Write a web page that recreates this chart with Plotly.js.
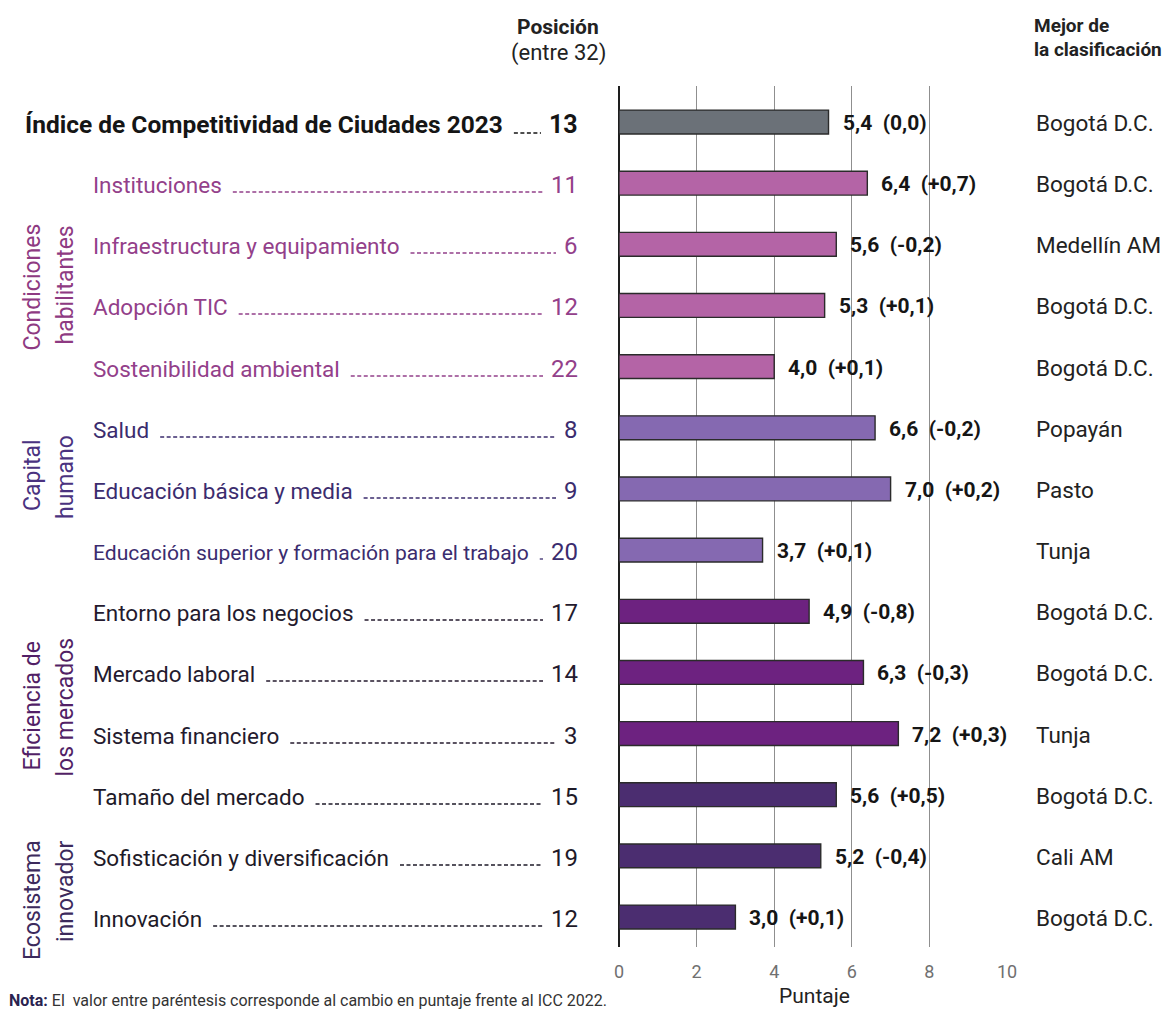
<!DOCTYPE html>
<html>
<head>
<meta charset="utf-8">
<script src="https://cdn.plot.ly/plotly-3.0.1.min.js"></script>
<style>
html,body{margin:0;padding:0;background:#fff;}
#chart{width:1171px;height:1011px;}
</style>
</head>
<body>
<div id="chart"></div>
<script>
// ---------- DATA ----------
const labels = [
  "Índice de Competitividad de Ciudades 2023",
  "Instituciones",
  "Infraestructura y equipamiento",
  "Adopción TIC",
  "Sostenibilidad ambiental",
  "Salud",
  "Educación básica y media",
  "Educación superior y formación para el trabajo",
  "Entorno para los negocios",
  "Mercado laboral",
  "Sistema financiero",
  "Tamaño del mercado",
  "Sofisticación y diversificación",
  "Innovación"
];
const groups = ["idx","cond","cond","cond","cond","cap","cap","cap","efi","efi","efi","eco","eco","eco"];
const positions = [13, 11, 6, 12, 22, 8, 9, 20, 17, 14, 3, 15, 19, 12];
const scores = [5.4, 6.4, 5.6, 5.3, 4.0, 6.6, 7.0, 3.7, 4.9, 6.3, 7.2, 5.6, 5.2, 3.0];
const changes = [0.0, 0.7, -0.2, 0.1, 0.1, -0.2, 0.2, 0.1, -0.8, -0.3, 0.3, 0.5, -0.4, 0.1];
const best = ["Bogotá D.C.","Bogotá D.C.","Medellín AM","Bogotá D.C.","Bogotá D.C.","Popayán","Pasto","Tunja","Bogotá D.C.","Bogotá D.C.","Tunja","Bogotá D.C.","Cali AM","Bogotá D.C."];
const groupLine1 = {cond:"Condiciones", cap:"Capital", efi:"Eficiencia de", eco:"Ecosistema"};
const groupLine2 = {cond:"habilitantes", cap:"humano", efi:"los mercados", eco:"innovador"};
const xTicks = [0, 2, 4, 6, 8, 10];

// ---------- STYLE ----------
const FONT = "Roboto, 'Liberation Sans', Arial, sans-serif";
const barColor = {idx:"#6b7178", cond:"#b464a6", cap:"#8569b1", efi:"#6d2280", eco:"#4b2d70"};
const textColor = {idx:"#151515", cond:"#93408a", cap:"#3b2c6e", efi:"#241a2e", eco:"#1e1a28"};
const groupColor = {cond:"#8e3a82", cap:"#4a3280", efi:"#521f66", eco:"#3c2a5c"};
const groupTopPx = {cond:[222, 224], cap:[437, 433], efi:[640, 636], eco:[838, 838]};

const W = 1171, H = 1011;
const M = {l:619, r:W-1007, t:86, b:H-947};
const PW = W - M.l - M.r, PH = H - M.t - M.b;
const px2x = px => (px - M.l) / PW;
const py2y = py => 1 - (py - M.t) / PH;

const fmt = v => v.toFixed(1).replace('.', ',');
const fmtChange = v => (v === 0 ? "0,0" : (v > 0 ? "+" : "-") + Math.abs(v).toFixed(1).replace('.', ','));

const trace = {
  type: 'bar',
  orientation: 'h',
  y: labels,
  x: scores,
  width: 0.39,
  marker: {color: groups.map(g => barColor[g]), line: {color: '#2b2b2b', width: 1.4}},
  hoverinfo: 'skip'
};

const annotations = [];
const labelIdx = [], numIdx = [];
const LABEL_SIZE = 22.5, IDX_SIZE = 24.5;
labels.forEach((lab, i) => {
  const g = groups[i];
  const isIdx = g === 'idx';
  labelIdx.push(annotations.length);
  annotations.push({
    xref: 'paper', yref: 'y', x: px2x(isIdx ? 23 : 91), y: lab, xanchor: 'left', yanchor: 'middle',
    text: isIdx ? '<b>' + lab + '</b>' : lab, showarrow: false, yshift: -2,
    font: {family: FONT, size: isIdx ? IDX_SIZE : LABEL_SIZE, color: textColor[g]}
  });
  numIdx.push(annotations.length);
  annotations.push({
    xref: 'paper', yref: 'y', x: px2x(580), y: lab, xanchor: 'right', yanchor: 'middle',
    text: isIdx ? '<b>' + positions[i] + '</b>' : String(positions[i]), showarrow: false, yshift: -2,
    font: {family: FONT, size: isIdx ? 25 : 24, color: textColor[g]}
  });
  annotations.push({
    xref: 'x', yref: 'y', x: scores[i], y: lab, xanchor: 'left', yanchor: 'middle', xshift: 12, yshift: -1,
    text: '<b>' + fmt(scores[i]) + '\u00a0\u00a0(' + fmtChange(changes[i]) + ')</b>', showarrow: false,
    font: {family: FONT, size: 21, color: '#151515'}
  });
  annotations.push({
    xref: 'paper', yref: 'y', x: px2x(1034), y: lab, xanchor: 'left', yanchor: 'middle', yshift: -1,
    text: best[i], showarrow: false,
    font: {family: FONT, size: 22.5, color: '#222'}
  });
});
Object.keys(groupLine1).forEach(g => {
  annotations.push({
    xref: 'paper', yref: 'paper', x: px2x(32), y: py2y(groupTopPx[g][0]), xanchor: 'center', yanchor: 'top',
    text: groupLine1[g], textangle: -90, showarrow: false,
    font: {family: FONT, size: 23, color: groupColor[g]}
  });
  annotations.push({
    xref: 'paper', yref: 'paper', x: px2x(65), y: py2y(groupTopPx[g][1]), xanchor: 'center', yanchor: 'top',
    text: groupLine2[g], textangle: -90, showarrow: false,
    font: {family: FONT, size: 23, color: groupColor[g]}
  });
});
// headers
annotations.push({xref:'paper', yref:'paper', x:px2x(558), y:py2y(27), xanchor:'center', yanchor:'middle', showarrow:false,
  text:'<b>Posición</b>', font:{family:FONT, size:21, color:'#222'}});
annotations.push({xref:'paper', yref:'paper', x:px2x(558), y:py2y(53), xanchor:'center', yanchor:'middle', showarrow:false,
  text:'(entre 32)', font:{family:FONT, size:22, color:'#222'}});
annotations.push({xref:'paper', yref:'paper', x:px2x(1032), y:py2y(26), xanchor:'left', yanchor:'middle', showarrow:false,
  text:'<b>Mejor de</b>', font:{family:FONT, size:19, color:'#222'}});
annotations.push({xref:'paper', yref:'paper', x:px2x(1032), y:py2y(50), xanchor:'left', yanchor:'middle', showarrow:false,
  text:'<b>la clasificación</b>', font:{family:FONT, size:19, color:'#222'}});
// axis title
annotations.push({xref:'paper', yref:'paper', x:px2x(814), y:py2y(996), xanchor:'center', yanchor:'middle', showarrow:false,
  text:'Puntaje', font:{family:FONT, size:21, color:'#222'}});
// note
annotations.push({xref:'paper', yref:'paper', x:px2x(7), y:py2y(1000), xanchor:'left', yanchor:'middle', showarrow:false,
  text:'<b><span style="color:#2a2350">Nota:</span></b> El  valor entre paréntesis corresponde al cambio en puntaje frente al ICC 2022.',
  font:{family:FONT, size:16, color:'#333'}});

const layout = {
  width: W, height: H,
  margin: M,
  paper_bgcolor: '#fff', plot_bgcolor: '#fff',
  showlegend: false,
  font: {family: FONT},
  xaxis: {
    range: [0, 10], tickvals: xTicks, ticktext: xTicks.map(String),
    showgrid: true, gridcolor: '#8f8f8f', gridwidth: 1,
    zeroline: true, zerolinecolor: '#1e1e1e', zerolinewidth: 2,
    showline: false, ticks: '', ticklabelstandoff: 12,
    tickfont: {family: FONT, size: 18, color: '#707070'}, fixedrange: true
  },
  yaxis: {
    type: 'category', categoryorder: 'array', categoryarray: labels,
    range: [13.49, -0.589], showticklabels: false, showgrid: false, zeroline: false, showline: false,
    ticks: '', fixedrange: true
  },
  annotations: annotations,
  bargap: 0
};

const gdiv = document.getElementById('chart');
const textBox = idx => {
  const el = gdiv.querySelector('.annotation[data-index="' + idx + '"] .annotation-text');
  return el ? el.getBoundingClientRect() : null;
};

Plotly.newPlot(gdiv, [trace], layout, {displayModeBar: false, staticPlot: true}).then(gd => {
  // shrink any label that would run into its position number
  const upd = {};
  labels.forEach((lab, i) => {
    const lb = textBox(labelIdx[i]), nb = textBox(numIdx[i]);
    if (!lb || !nb) return;
    const maxRight = nb.left - 22;
    if (lb.right > maxRight) {
      const s = annotations[labelIdx[i]].font.size * (maxRight - lb.left) / (lb.right - lb.left);
      upd['annotations[' + labelIdx[i] + '].font.size'] = Math.floor(s * 10) / 10;
    }
  });
  return Plotly.relayout(gd, upd);
}).then(gd => {
  const root = gd.getBoundingClientRect();
  const shapes = [];
  labels.forEach((lab, i) => {
    const lb = textBox(labelIdx[i]), nb = textBox(numIdx[i]);
    if (!lb || !nb) return;
    const x0 = lb.right - root.left + 11;
    const x1 = nb.left - root.left - 8;
    const yb = lb.bottom - root.top - 6;
    if (x1 > x0) {
      shapes.push({type:'line', xref:'paper', yref:'paper', x0:px2x(x0), x1:px2x(x1), y0:py2y(yb), y1:py2y(yb),
        line:{color:textColor[groups[i]], width:1.3, dash:'4px,2.5px'}});
    }
  });
  return Plotly.relayout(gd, {shapes: shapes});
});
</script>
</body>
</html>
